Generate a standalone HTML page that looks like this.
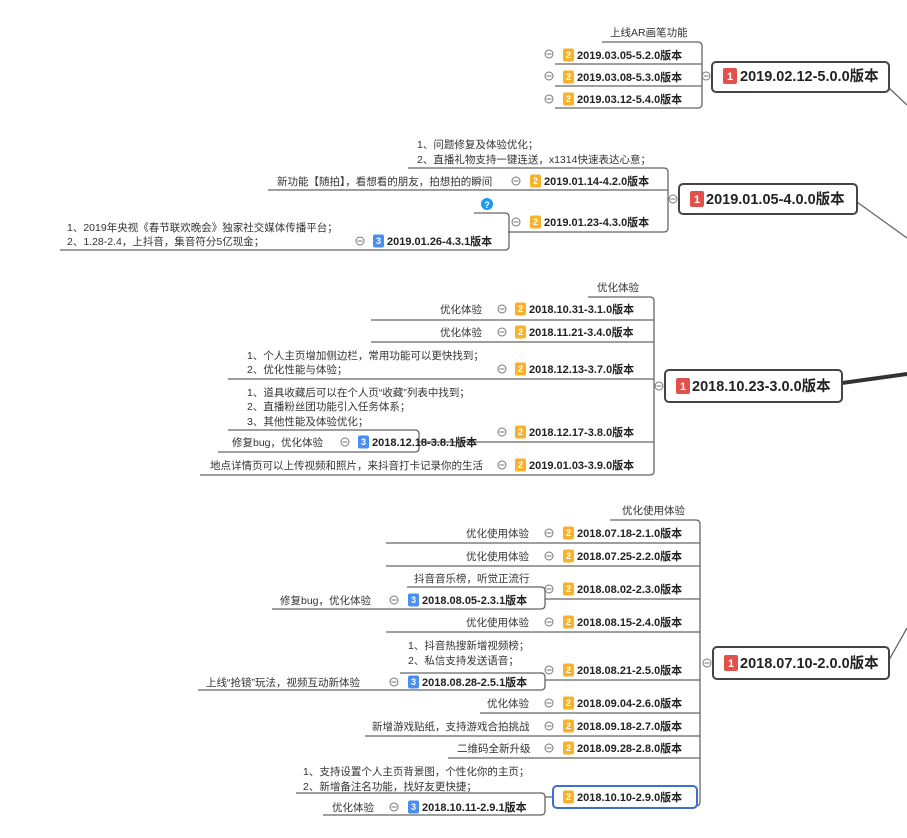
<!DOCTYPE html>
<html><head><meta charset="utf-8"><style>
html,body{margin:0;padding:0;background:#fff;}
svg{display:block;font-family:"Liberation Sans","Noto Sans CJK SC",sans-serif;}
.n{font-size:11px;font-weight:bold;fill:#222;}
.l{font-size:10.5px;fill:#333;}
.m{font-size:14.5px;font-weight:bold;fill:#222;}
.b{font-size:9px;fill:#fff;text-anchor:middle;font-weight:bold;}
.ln{stroke:#666;stroke-width:1.3;fill:none;}
.c{stroke:#777;stroke-width:1;fill:#fff;}
</style></head><body>
<svg width="907" height="838" viewBox="0 0 907 838">
<defs>
<g id="cm"><circle class="c" cx="0" cy="0" r="4"/><line x1="-2.5" y1="0" x2="2.5" y2="0" stroke="#777"/></g>
<g id="b2"><rect x="0" y="-6.5" width="11" height="13" rx="2" fill="#f7b22a"/><text class="b" x="5.5" y="3">2</text></g>
<g id="b3"><rect x="0" y="-6.5" width="11" height="13" rx="2" fill="#4a8ff0"/><text class="b" x="5.5" y="3">3</text></g>
<g id="b1"><rect x="0" y="-8" width="14" height="16" rx="2" fill="#e2504c"/><text class="b" x="7" y="4" style="font-size:11px">1</text></g>
</defs>

<!-- ===== Branch 5.0 ===== -->
<line class="ln" x1="889" y1="88" x2="907" y2="105"/>
<rect x="712" y="62" width="177" height="30" rx="4" fill="#fff" stroke="#444" stroke-width="2"/>
<use href="#b1" x="723" y="76"/><text class="m" x="740" y="81">2019.02.12-5.0.0版本</text>
<use href="#cm" x="706" y="76"/>
<path class="ln" d="M602 42 H698 Q702 42 702 46 V104 Q702 108 698 108 H555"/>
<line class="ln" x1="555" y1="64" x2="702" y2="64"/>
<line class="ln" x1="555" y1="86" x2="702" y2="86"/>
<text class="l" x="610" y="36">上线AR画笔功能</text>
<use href="#cm" x="549" y="54"/><use href="#b2" x="563" y="55"/><text class="n" x="577" y="59">2019.03.05-5.2.0版本</text>
<use href="#cm" x="549" y="76"/><use href="#b2" x="563" y="77"/><text class="n" x="577" y="81">2019.03.08-5.3.0版本</text>
<use href="#cm" x="549" y="99"/><use href="#b2" x="563" y="99"/><text class="n" x="577" y="103">2019.03.12-5.4.0版本</text>

<!-- ===== Branch 4.0 ===== -->
<line class="ln" x1="857" y1="202" x2="907" y2="238"/>
<rect x="679" y="184" width="178" height="30" rx="4" fill="#fff" stroke="#444" stroke-width="2"/>
<use href="#b1" x="690" y="199"/><text class="m" x="706" y="204">2019.01.05-4.0.0版本</text>
<use href="#cm" x="673" y="199"/>
<path class="ln" d="M408 168 H664 Q668 168 668 172 V228 Q668 232 664 232 H508"/>
<line class="ln" x1="268" y1="190" x2="668" y2="190"/>
<text class="l" x="417" y="148">1、问题修复及体验优化；</text>
<text class="l" x="417" y="163">2、直播礼物支持一键连送，x1314快速表达心意；</text>
<text class="l" x="277" y="185">新功能【随拍】，看想看的朋友，拍想拍的瞬间</text>
<use href="#cm" x="516" y="181"/><use href="#b2" x="530" y="181"/><text class="n" x="544" y="185">2019.01.14-4.2.0版本</text>
<circle cx="487" cy="204" r="6" fill="#1a9cf0"/><text x="487" y="208" style="font-size:9px;fill:#fff;font-weight:bold" text-anchor="middle">?</text>
<use href="#cm" x="516" y="222"/><use href="#b2" x="530" y="222"/><text class="n" x="544" y="226">2019.01.23-4.3.0版本</text>
<path class="ln" d="M474 213 H505 Q509 213 509 217 V246 Q509 250 505 250 H60"/>
<text class="l" x="67" y="231">1、2019年央视《春节联欢晚会》独家社交媒体传播平台；</text>
<text class="l" x="67" y="245">2、1.28-2.4，上抖音，集音符分5亿现金；</text>
<use href="#cm" x="360" y="241"/><use href="#b3" x="373" y="241"/><text class="n" x="387" y="245">2019.01.26-4.3.1版本</text>

<!-- ===== Branch 3.0 ===== -->
<polygon points="842,381 907,372 907,376 842,385" fill="#333"/>
<rect x="665" y="370" width="177" height="32" rx="4" fill="#fff" stroke="#444" stroke-width="2"/>
<use href="#b1" x="676" y="386"/><text class="m" x="692" y="391">2018.10.23-3.0.0版本</text>
<use href="#cm" x="659" y="386"/>
<path class="ln" d="M588 297 H650 Q654 297 654 301 V471 Q654 475 650 475 H200"/>
<line class="ln" x1="371" y1="320" x2="654" y2="320"/>
<line class="ln" x1="371" y1="342" x2="654" y2="342"/>
<line class="ln" x1="228" y1="379" x2="654" y2="379"/>
<line class="ln" x1="419" y1="442" x2="654" y2="442"/>
<text class="l" x="597" y="291">优化体验</text>
<text class="l" x="440" y="313">优化体验</text>
<use href="#cm" x="502" y="309"/><use href="#b2" x="515" y="309"/><text class="n" x="529" y="313">2018.10.31-3.1.0版本</text>
<text class="l" x="440" y="336">优化体验</text>
<use href="#cm" x="502" y="332"/><use href="#b2" x="515" y="332"/><text class="n" x="529" y="336">2018.11.21-3.4.0版本</text>
<text class="l" x="247" y="359">1、个人主页增加侧边栏，常用功能可以更快找到；</text>
<text class="l" x="247" y="373">2、优化性能与体验；</text>
<use href="#cm" x="502" y="369"/><use href="#b2" x="515" y="369"/><text class="n" x="529" y="373">2018.12.13-3.7.0版本</text>
<text class="l" x="247" y="396">1、道具收藏后可以在个人页“收藏”列表中找到；</text>
<text class="l" x="247" y="410">2、直播粉丝团功能引入任务体系；</text>
<text class="l" x="247" y="425">3、其他性能及体验优化；</text>
<use href="#cm" x="502" y="432"/><use href="#b2" x="515" y="432"/><text class="n" x="529" y="436">2018.12.17-3.8.0版本</text>
<path class="ln" d="M228 430 H415 Q419 430 419 434 V448 Q419 452 415 452 H218"/>
<text class="l" x="232" y="446">修复bug，优化体验</text>
<use href="#cm" x="345" y="442"/><use href="#b3" x="358" y="442"/><text class="n" x="372" y="446">2018.12.18-3.8.1版本</text>
<text class="l" x="210" y="469">地点详情页可以上传视频和照片，来抖音打卡记录你的生活</text>
<use href="#cm" x="502" y="465"/><use href="#b2" x="515" y="465"/><text class="n" x="529" y="469">2019.01.03-3.9.0版本</text>

<!-- ===== Branch 2.0 ===== -->
<line class="ln" x1="889" y1="660" x2="907" y2="628"/>
<rect x="713" y="647" width="176" height="32" rx="4" fill="#fff" stroke="#444" stroke-width="2"/>
<use href="#b1" x="724" y="663"/><text class="m" x="740" y="668">2018.07.10-2.0.0版本</text>
<use href="#cm" x="707" y="663"/>
<path class="ln" d="M610 520 H696 Q700 520 700 524 V802 Q700 806 696 806 H697"/>
<line class="ln" x1="386" y1="543" x2="700" y2="543"/>
<line class="ln" x1="386" y1="566" x2="700" y2="566"/>
<line class="ln" x1="545" y1="599" x2="700" y2="599"/>
<line class="ln" x1="386" y1="632" x2="700" y2="632"/>
<line class="ln" x1="545" y1="680" x2="700" y2="680"/>
<line class="ln" x1="480" y1="713" x2="700" y2="713"/>
<line class="ln" x1="365" y1="736" x2="700" y2="736"/>
<line class="ln" x1="448" y1="758" x2="700" y2="758"/>
<line class="ln" x1="545" y1="797" x2="553" y2="797"/>
<text class="l" x="622" y="514">优化使用体验</text>
<text class="l" x="466" y="537">优化使用体验</text>
<use href="#cm" x="549" y="533"/><use href="#b2" x="563" y="533"/><text class="n" x="577" y="537">2018.07.18-2.1.0版本</text>
<text class="l" x="466" y="560">优化使用体验</text>
<use href="#cm" x="549" y="556"/><use href="#b2" x="563" y="556"/><text class="n" x="577" y="560">2018.07.25-2.2.0版本</text>
<text class="l" x="414" y="582">抖音音乐榜，听觉正流行</text>
<use href="#cm" x="549" y="589"/><use href="#b2" x="563" y="589"/><text class="n" x="577" y="593">2018.08.02-2.3.0版本</text>
<path class="ln" d="M407 587 H541 Q545 587 545 591 V605 Q545 609 541 609 H272"/>
<text class="l" x="280" y="604">修复bug，优化体验</text>
<use href="#cm" x="394" y="600"/><use href="#b3" x="408" y="600"/><text class="n" x="422" y="604">2018.08.05-2.3.1版本</text>
<text class="l" x="466" y="626">优化使用体验</text>
<use href="#cm" x="549" y="622"/><use href="#b2" x="563" y="622"/><text class="n" x="577" y="626">2018.08.15-2.4.0版本</text>
<text class="l" x="408" y="649">1、抖音热搜新增视频榜；</text>
<text class="l" x="408" y="664">2、私信支持发送语音；</text>
<use href="#cm" x="549" y="670"/><use href="#b2" x="563" y="670"/><text class="n" x="577" y="674">2018.08.21-2.5.0版本</text>
<path class="ln" d="M400 673 H541 Q545 673 545 677 V686 Q545 690 541 690 H198"/>
<text class="l" x="206" y="686">上线“抢镜”玩法，视频互动新体验</text>
<use href="#cm" x="394" y="682"/><use href="#b3" x="408" y="682"/><text class="n" x="422" y="686">2018.08.28-2.5.1版本</text>
<text class="l" x="487" y="707">优化体验</text>
<use href="#cm" x="549" y="703"/><use href="#b2" x="563" y="703"/><text class="n" x="577" y="707">2018.09.04-2.6.0版本</text>
<text class="l" x="372" y="730">新增游戏贴纸，支持游戏合拍挑战</text>
<use href="#cm" x="549" y="726"/><use href="#b2" x="563" y="726"/><text class="n" x="577" y="730">2018.09.18-2.7.0版本</text>
<text class="l" x="457" y="752">二维码全新升级</text>
<use href="#cm" x="549" y="748"/><use href="#b2" x="563" y="748"/><text class="n" x="577" y="752">2018.09.28-2.8.0版本</text>
<text class="l" x="303" y="775">1、支持设置个人主页背景图，个性化你的主页；</text>
<text class="l" x="303" y="790">2、新增备注名功能，找好友更快捷；</text>
<path class="ln" d="M296 793 H541 Q545 793 545 797 V811 Q545 815 541 815 H323"/>
<rect x="553" y="786" width="144" height="22" rx="4" fill="#fff" stroke="#3d6fd0" stroke-width="2"/>
<use href="#b2" x="563" y="797"/><text class="n" x="577" y="801">2018.10.10-2.9.0版本</text>
<text class="l" x="332" y="811">优化体验</text>
<use href="#cm" x="394" y="807"/><use href="#b3" x="408" y="807"/><text class="n" x="422" y="811">2018.10.11-2.9.1版本</text>
</svg>
</body></html>
